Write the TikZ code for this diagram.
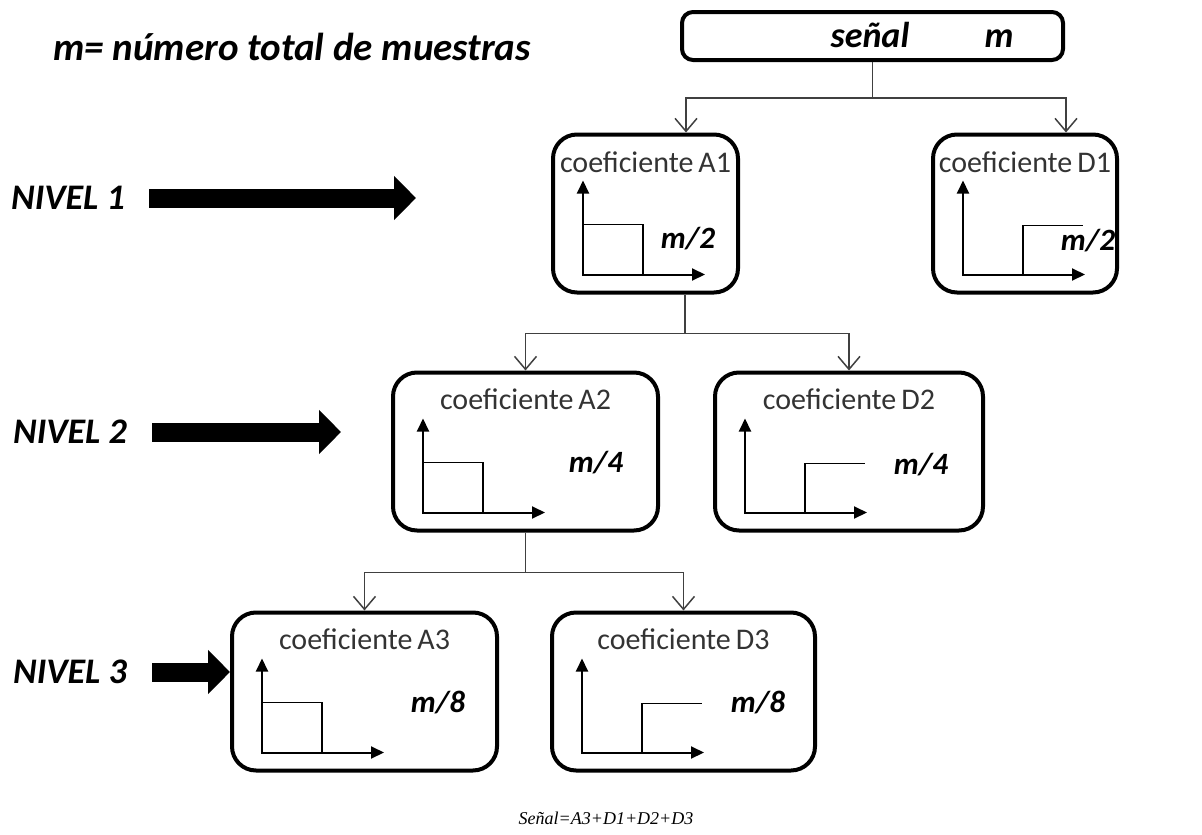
\documentclass[tikz,border=0pt]{standalone}
\usepackage{fontspec}
\setmainfont{Carlito}
\newfontfamily\timesfont{Liberation Serif}
\usetikzlibrary{arrows.meta,calc}
\tikzset{
  coef/.style={draw,line width=4pt,rounded corners=24pt,minimum width=#1,minimum height=158pt,inner sep=0pt},
  topbox/.style={draw,line width=4pt,rounded corners=11pt,minimum width=381pt,minimum height=48pt,inner sep=0pt},
  ctext/.style={font=\fontsize{30}{34}\selectfont,text=black!80,inner sep=0pt},
  mtext/.style={font=\fontsize{31}{34}\selectfont\bfseries\itshape,inner sep=0pt},
  bigtext/.style={font=\fontsize{36}{40}\selectfont\bfseries\itshape,inner sep=0pt},
  tree/.style={draw=black!75,line width=1.5pt},
  ar/.style={tree,-{Straight Barb[length=13pt,width=22pt,line width=1.5pt]}},
  axis/.style={line width=2pt,{Triangle[length=13pt,width=12pt]}-{Triangle[length=13pt,width=12pt]}},
  sig/.style={line width=1.5pt},
  big/.style={line width=19pt,-{Triangle[length=22pt,width=43pt]}},
}
\begin{document}
\begin{tikzpicture}[x=1pt,y=-1pt]
  \useasboundingbox (0,0) rectangle (1202,835);
  % caption and signal
  \node[bigtext,font=\fontsize{39}{42}\selectfont\bfseries\itshape] (leg) at (292,47) {m= número total de muestras};
  \node[topbox] (senal) at (872.5,36) {};
  \node[bigtext,anchor=base] (senalt) at (870,47) {señal};
  \node[bigtext,anchor=base] (senalm) at (999,47) {m};

  % coefficient boxes
  \node[coef=185pt] (a1) at (645.5,213.5) {};
  \node[coef=184pt] (d1) at (1025,213.5) {};
  \node[coef=265pt] (a2) at (525.5,451.5) {};
  \node[coef=268pt] (d2) at (849,451.5) {};
  \node[coef=265pt] (a3) at (364.5,691.5) {};
  \node[coef=263pt] (d3) at (683.5,691.5) {};

  \node[ctext] (a1t) at ($(a1.north)+(0,30)$) {coeficiente\,A1};
  \node[ctext] (d1t) at ($(d1.north)+(0,30)$) {coeficiente\,D1};
  \node[ctext] (a2t) at ($(a2.north)+(0,29)$) {coeficiente\,A2};
  \node[ctext] (d2t) at ($(d2.north)+(0,29)$) {coeficiente\,D2};
  \node[ctext] (a3t) at ($(a3.north)+(0,29)$) {coeficiente\,A3};
  \node[ctext] (d3t) at ($(d3.north)+(0,29)$) {coeficiente\,D3};

  \node[mtext] (a1m) at ($(a1.north west)+(137,106)$) {m/2};
  \node[mtext] (d1m) at ($(d1.north west)+(157,108)$) {m/2};
  \node[mtext] (a2m) at ($(a2.north west)+(205,92)$) {m/4};
  \node[mtext] (d2m) at ($(d2.north west)+(208,94)$) {m/4};
  \node[mtext] (a3m) at ($(a3.north west)+(208,92)$) {m/8};
  \node[mtext] (d3m) at ($(d3.north west)+(208,92)$) {m/8};

  % little plots
  \foreach \b in {a1,a2,a3,d1,d2,d3}
    \draw[axis] ($(\b.north west)+(32,48)$) |- ($(\b.north west)+(154,142)$);
  \foreach \b in {a1,a2,a3}
    \draw[sig] ($(\b.north west)+(32,92)$) -| ($(\b.north west)+(92,142)$);
  \foreach \b in {d1,d2,d3}
    \draw[sig] ($(\b.north west)+(92,142)$) |- ($(\b.north west)+(152,93)$);

  % tree
  \coordinate (j1) at (872.5,98);
  \draw[tree] (senal.south) -- (j1);
  \draw[ar] (j1) -| ([xshift=40.5pt]a1.north);
  \draw[ar] (j1) -| ([xshift=41pt]d1.north);
  \draw[tree] ([xshift=39.5pt]a1.south) -- ++(0,39) coordinate (j2);
  \draw[ar] (j2) -| (a2.north);
  \draw[ar] (j2) -| (d2.north);
  \draw[tree] (a2.south) -- ++(0,40) coordinate (j3);
  \draw[ar] (j3) -| (a3.north);
  \draw[ar] (j3) -| (d3.north);

  % levels
  \node[bigtext] (n1) at (68,198) {NIVEL 1};
  \node[bigtext] (n2) at (70,432) {NIVEL 2};
  \node[bigtext] (n3) at (70,672) {NIVEL 3};
  \coordinate (n1e) at (416,198);
  \coordinate (n2e) at (341,432);
  \draw[big] ([xshift=24pt]n1.east) -- (n1e);
  \draw[big] (n2.east -| 152,0) -- (n2e);
  \draw[big] (n3.east -| 152,0) -- (n3.east -| a3.west);

  \node[font=\fontsize{18}{21}\selectfont\timesfont\itshape,inner sep=0pt] (sum) at (606,818) {Señal=A3+D1+D2+D3};
\end{tikzpicture}
\end{document}
